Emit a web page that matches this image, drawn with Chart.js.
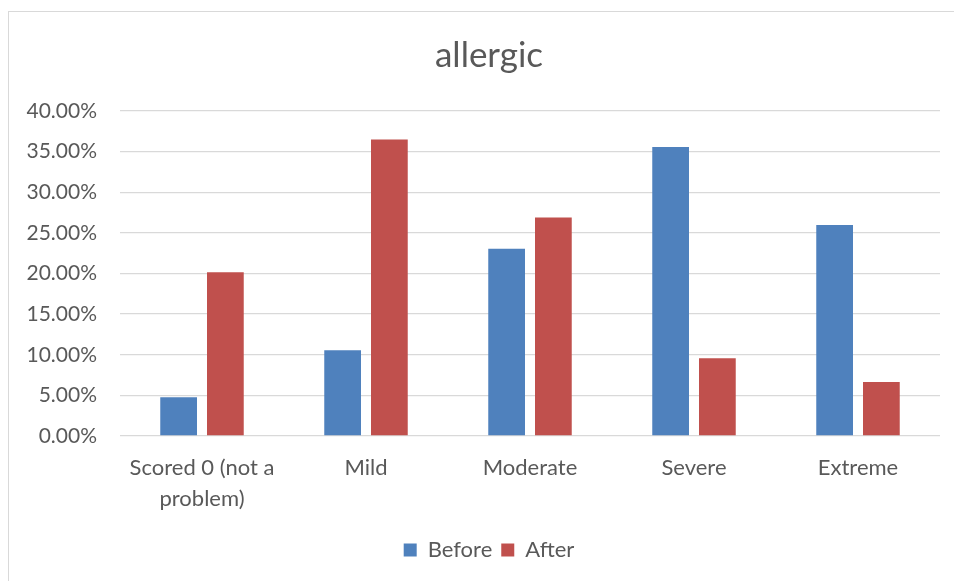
<!DOCTYPE html>
<html>
<head>
<meta charset="utf-8">
<script src="https://cdn.jsdelivr.net/npm/chart.js@4.4.1/dist/chart.umd.min.js"></script>
<style>
  html, body { margin: 0; padding: 0; background: #fff; overflow: hidden; }
  .frame {
    position: absolute;
    left: 8px;
    top: 11px;
    width: 960px;
    height: 590px;
    border-left: 1.5px solid #d9d9d9;
    border-top: 1.5px solid #d9d9d9;
  }
  .chart-box { position: absolute; left: 9px; top: 12px; width: 960px; height: 569px; }
</style>
</head>
<body>
<div class="frame"></div>
<div class="chart-box"><canvas id="allergicChart"></canvas></div>
<script>
const categories = ["Scored 0 (not a problem)", "Mild", "Moderate", "Severe", "Extreme"];
const beforeValues = [4.77, 10.56, 23.04, 35.57, 25.96];
const afterValues = [20.16, 36.5, 26.9, 9.57, 6.65];
const yTicks = [0, 5, 10, 15, 20, 25, 30, 35, 40];

const textColor = "#595959";
const fontFamily = "Lato, 'Open Sans', sans-serif";

function wrapLabel(label) {
  // split long category names onto two lines like the original
  if (label.length <= 16) return label;
  const cut = label.lastIndexOf(" ", 16);
  return [label.slice(0, cut), label.slice(cut + 1)];
}

const ctx = document.getElementById("allergicChart").getContext("2d");
new Chart(ctx, {
  type: "bar",
  data: {
    labels: categories.map(wrapLabel),
    datasets: [
      {
        label: "Before",
        data: beforeValues,
        backgroundColor: "#4F81BD",
        categoryPercentage: 0.57,
        barPercentage: 0.786,
      },
      {
        label: "After",
        data: afterValues,
        backgroundColor: "#C0504D",
        categoryPercentage: 0.57,
        barPercentage: 0.786,
      },
    ],
  },
  options: {
    responsive: true,
    maintainAspectRatio: false,
    animation: false,
    layout: { padding: { left: 8, right: 8, top: 0, bottom: 10 } },
    plugins: {
      title: {
        display: true,
        text: "allergic",
        color: textColor,
        font: { family: fontFamily, size: 35, weight: "normal" },
        padding: { top: 23, bottom: 34 },
      },
      legend: {
        position: "bottom",
        labels: {
          color: textColor,
          font: { family: fontFamily, size: 22 },
          boxWidth: 13,
          boxHeight: 13,
          padding: 9,
        },
      },
      tooltip: { enabled: false },
    },
    scales: {
      y: {
        min: 0,
        max: 40,
        afterFit: (scale) => { scale.width = 103; },
        afterBuildTicks: (scale) => {
          scale.ticks = yTicks.map((v) => ({ value: v }));
        },
        ticks: {
          color: textColor,
          font: { family: fontFamily, size: 21 },
          padding: 23,
          callback: (v) => v.toFixed(2) + "%",
        },
        grid: { color: "#d9d9d9", lineWidth: 1.3, drawTicks: false },
        border: { display: false },
      },
      // empty right-hand gutter so the title and legend centre like the original
      gutter: {
        position: "right",
        afterFit: (scale) => { scale.width = 21; },
        ticks: { display: false },
        grid: { display: false },
        border: { display: false },
      },
      x: {
        afterFit: (scale) => { scale.height = 94; },
        ticks: {
          color: textColor,
          font: { family: fontFamily, size: 22, lineHeight: 1.4 },
          padding: 9,
          maxRotation: 0,
        },
        grid: { display: false },
        border: { display: false },
      },
    },
  },
});
</script>
</body>
</html>
